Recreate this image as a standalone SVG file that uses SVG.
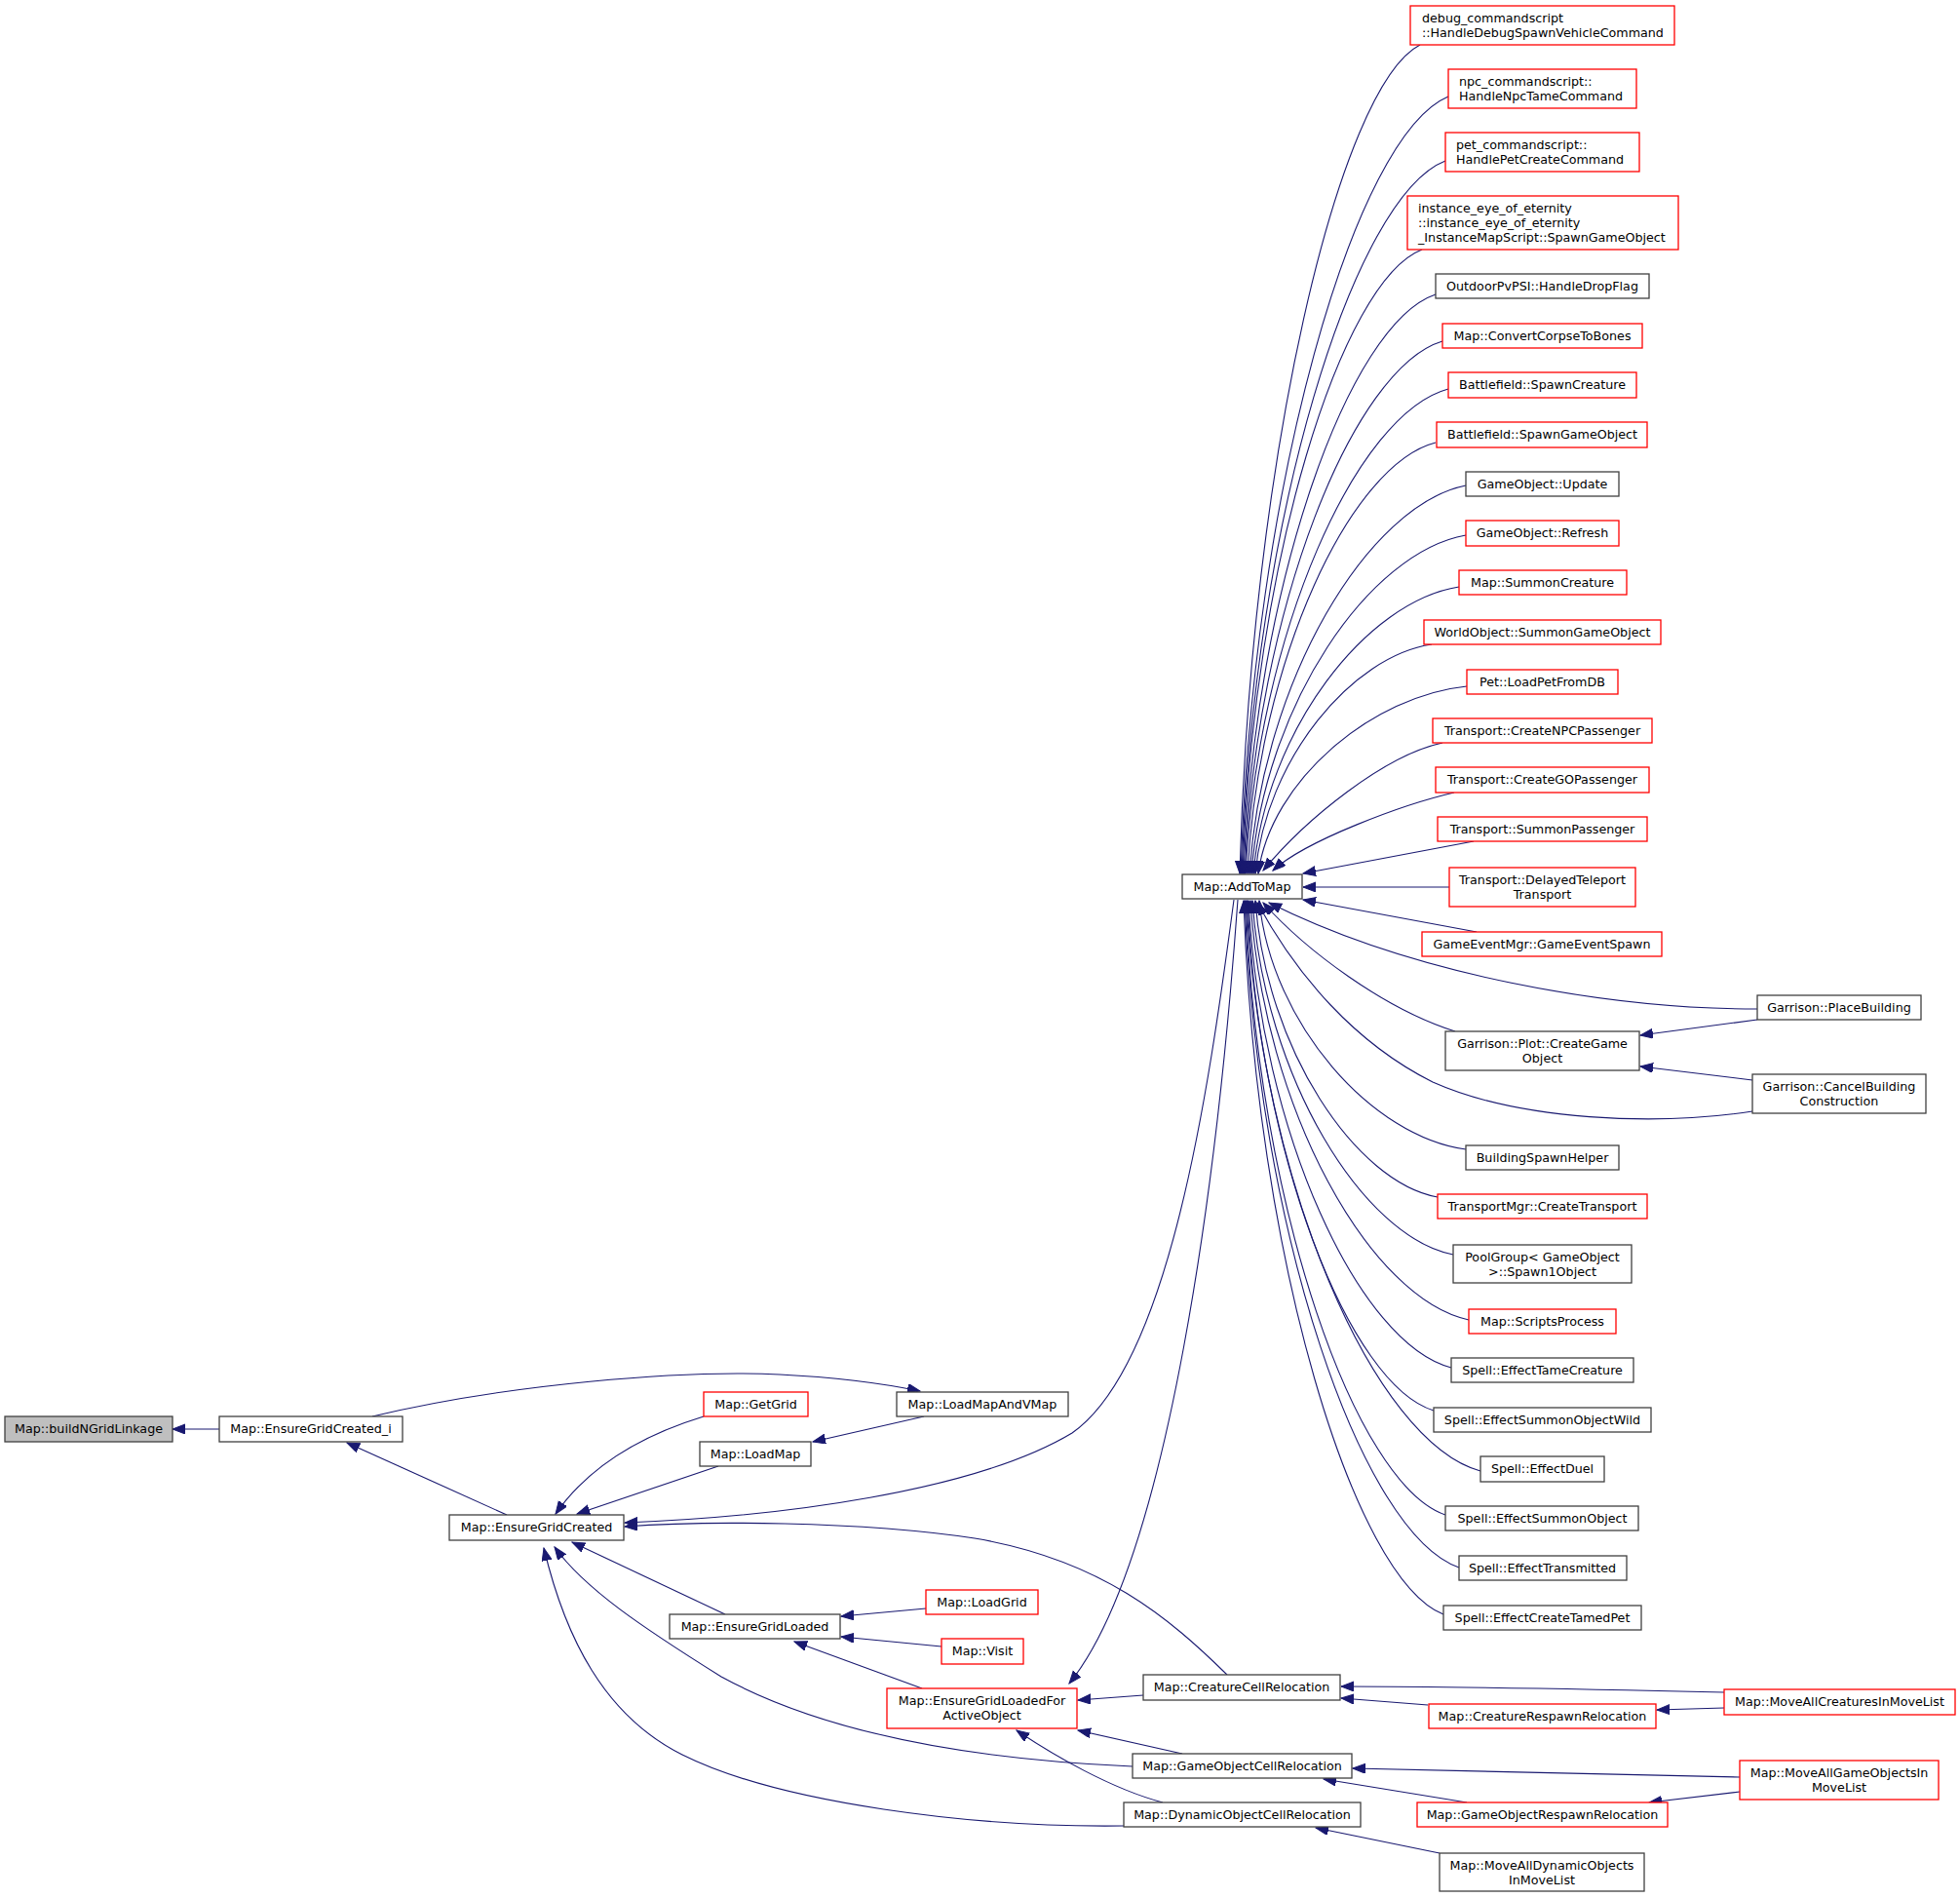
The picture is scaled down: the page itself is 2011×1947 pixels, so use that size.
<svg xmlns="http://www.w3.org/2000/svg" width="2011" height="1947" viewBox="0 0 2011 1947">
<style>
.node rect{fill:#ffffff;stroke:#404040;stroke-width:1.3}
.node.red rect{stroke:#ff0000}
.node.root rect{fill:#bfbfbf}
.node text{font-family:"DejaVu Sans",sans-serif;font-size:12.7px;fill:#000000;text-anchor:middle}
.node text.l{text-anchor:start}
.edges path{fill:none;stroke:#191970;stroke-width:1.1;marker-end:url(#arr)}
</style>
<defs>
<marker id="arr" markerUnits="userSpaceOnUse" markerWidth="14" markerHeight="11" refX="13" refY="5" orient="auto">
<path d="M0,0 L13,5 L0,10 Z" fill="#191970" stroke="#191970" stroke-width="1"/>
</marker>
</defs>
<rect x="0" y="0" width="2011" height="1947" fill="#ffffff"/>
<g id="edges" class="edges">
<path d="M225,1466 L177,1466"/>
<path d="M520,1554 L356,1480"/>
<path d="M382,1453 C520,1420 700,1405 800,1410 C860,1413 910,1420 944,1427"/>
<path d="M948,1453 L834,1479"/>
<path d="M722,1453 C650,1475 600,1510 570,1553"/>
<path d="M737,1504 L592,1553"/>
<path d="M1266,923 C1240,1120 1200,1400 1100,1470 C1000,1530 800,1556 641,1562"/>
<path d="M744,1656 L587,1582"/>
<path d="M1259,1718 C1200,1660 1130,1600 1000,1578 C880,1560 720,1560 641,1566"/>
<path d="M1162,1812 C1000,1805 850,1780 740,1720 C660,1670 600,1630 569,1587"/>
<path d="M1153,1873 C1000,1875 800,1850 700,1800 C620,1760 580,1680 558,1588"/>
<path d="M950,1650 L863,1658"/>
<path d="M966,1689 L863,1679"/>
<path d="M946,1732 L815,1684"/>
<path d="M1270,923 C1250,1200 1200,1600 1097,1727"/>
<path d="M1173,1739 L1106,1744"/>
<path d="M1213,1799 L1106,1775"/>
<path d="M1193,1849 C1140,1835 1080,1800 1043,1775"/>
<path d="M1769,1736 C1600,1732 1450,1730 1376,1730"/>
<path d="M1465,1749 L1376,1742"/>
<path d="M1769,1752 L1700,1754"/>
<path d="M1785,1823 L1388,1814"/>
<path d="M1505,1849 L1358,1825"/>
<path d="M1785,1838 L1692,1849"/>
<path d="M1477,1901 L1350,1875"/>
<path d="M1457,46 C1373.8,88.5 1283.1,471 1272,896"/>
<path d="M1486,99 C1390.2,138.9 1285.8,497.5 1273,896"/>
<path d="M1483,165 C1389,201.6 1286.5,530.5 1274,896"/>
<path d="M1459,256 C1376.2,288 1286,576 1275,896"/>
<path d="M1473,302 C1384.4,331.7 1287.8,599 1276,896"/>
<path d="M1480,350 C1388.7,377.3 1289.2,623 1277,896"/>
<path d="M1486,399 C1392.4,423.9 1290.5,647.5 1278,896"/>
<path d="M1473,454 C1386.2,476.1 1291.6,675 1280,896"/>
<path d="M1504,498 C1404.1,517.9 1295.3,697 1282,896"/>
<path d="M1504,549 C1405,566.4 1297.2,722.5 1284,896"/>
<path d="M1497,602 C1402,616.7 1298.7,749 1286,896"/>
<path d="M1469,661 C1387.6,672.8 1298.9,778.5 1288,896"/>
<path d="M1505,704 C1408.7,713.6 1303.8,800 1291,896"/>
<path d="M1480,762 C1420,775 1340,840 1296,893"/>
<path d="M1492,813 C1440,825 1340,862 1306,893"/>
<path d="M1512,863 L1337,896"/>
<path d="M1487,910 L1337,910"/>
<path d="M1515,956 L1337,923"/>
<path d="M1803,1035 C1650,1035 1450,1000 1302,926"/>
<path d="M1493,1058 C1420,1035 1340,975 1296,926"/>
<path d="M1803,1046 L1683,1062"/>
<path d="M1798,1108 L1683,1094"/>
<path d="M1798,1140 C1700,1155 1560,1150 1470,1110 C1390,1070 1330,1000 1290,926"/>
<path d="M1504,1179 C1408.6,1166.3 1304.7,1051.5 1292,924"/>
<path d="M1475,1228 C1390.9,1212.8 1299.2,1076 1288,924"/>
<path d="M1491,1287 C1398.3,1268.9 1297.4,1105.5 1285,924"/>
<path d="M1507,1354 C1406.2,1332.5 1296.4,1139 1283,924"/>
<path d="M1489,1403 C1395.4,1379 1293.5,1163.5 1281,924"/>
<path d="M1471,1447 C1385,1420.9 1291.5,1185.5 1280,924"/>
<path d="M1519,1509 C1411,1479.8 1293.4,1216.5 1279,924"/>
<path d="M1483,1554 C1390.8,1522.5 1290.3,1239 1278,924"/>
<path d="M1497,1608 C1398,1573.8 1290.2,1266 1277,924"/>
<path d="M1481,1656 C1388.8,1619.4 1288.3,1290 1276,924"/>
</g>
<g id="n1" class="node root"><rect x="5" y="1453" width="172" height="26"/><text x="91" y="1470">Map::buildNGridLinkage</text></g>
<g id="n2" class="node"><rect x="225" y="1453" width="188" height="26"/><text x="319" y="1470">Map::EnsureGridCreated_i</text></g>
<g id="n3" class="node"><rect x="461" y="1554" width="179" height="26"/><text x="550.5" y="1571">Map::EnsureGridCreated</text></g>
<g id="n4" class="node"><rect x="920" y="1428" width="176" height="25"/><text x="1008" y="1445">Map::LoadMapAndVMap</text></g>
<g id="n5" class="node red"><rect x="722" y="1428" width="107" height="25"/><text x="775.5" y="1445">Map::GetGrid</text></g>
<g id="n6" class="node"><rect x="718" y="1479" width="114" height="25"/><text x="775" y="1496">Map::LoadMap</text></g>
<g id="n7" class="node"><rect x="687" y="1656" width="175" height="25"/><text x="774.5" y="1673">Map::EnsureGridLoaded</text></g>
<g id="n8" class="node red"><rect x="950" y="1631" width="115" height="25"/><text x="1007.5" y="1648">Map::LoadGrid</text></g>
<g id="n9" class="node red"><rect x="966" y="1681" width="84" height="26"/><text x="1008" y="1698">Map::Visit</text></g>
<g id="n10" class="node red"><rect x="910" y="1732" width="195" height="41"/><text x="1007.5" y="1748.5">Map::EnsureGridLoadedFor</text><text x="1007.5" y="1763.5">ActiveObject</text></g>
<g id="n11" class="node"><rect x="1173" y="1718" width="202" height="26"/><text x="1274" y="1735">Map::CreatureCellRelocation</text></g>
<g id="n12" class="node"><rect x="1162" y="1799" width="225" height="25"/><text x="1274.5" y="1816">Map::GameObjectCellRelocation</text></g>
<g id="n13" class="node"><rect x="1153" y="1849" width="243" height="25"/><text x="1274.5" y="1866">Map::DynamicObjectCellRelocation</text></g>
<g id="n14" class="node red"><rect x="1466" y="1748" width="233" height="25"/><text x="1582.5" y="1765">Map::CreatureRespawnRelocation</text></g>
<g id="n15" class="node red"><rect x="1454" y="1849" width="257" height="25"/><text x="1582.5" y="1866">Map::GameObjectRespawnRelocation</text></g>
<g id="n16" class="node red"><rect x="1769" y="1733" width="237" height="26"/><text x="1887.5" y="1750">Map::MoveAllCreaturesInMoveList</text></g>
<g id="n17" class="node red"><rect x="1785" y="1806" width="204" height="40"/><text x="1887" y="1822.5">Map::MoveAllGameObjectsIn</text><text x="1887" y="1837.5">MoveList</text></g>
<g id="n18" class="node"><rect x="1477" y="1901" width="210" height="39"/><text x="1582" y="1917.5">Map::MoveAllDynamicObjects</text><text x="1582" y="1932.5">InMoveList</text></g>
<g id="n19" class="node"><rect x="1213" y="897" width="123" height="25"/><text x="1274.5" y="914">Map::AddToMap</text></g>
<g id="n20" class="node red"><rect x="1447" y="6" width="271" height="40"/><text class="l" x="1459" y="22.5">debug_commandscript</text><text class="l" x="1459" y="37.5">::HandleDebugSpawnVehicleCommand</text></g>
<g id="n21" class="node red"><rect x="1486" y="71" width="193" height="40"/><text class="l" x="1497" y="87.5">npc_commandscript::</text><text class="l" x="1497" y="102.5">HandleNpcTameCommand</text></g>
<g id="n22" class="node red"><rect x="1483" y="136" width="199" height="40"/><text class="l" x="1494" y="152.5">pet_commandscript::</text><text class="l" x="1494" y="167.5">HandlePetCreateCommand</text></g>
<g id="n23" class="node red"><rect x="1444" y="201" width="278" height="55"/><text class="l" x="1455" y="218">instance_eye_of_eternity</text><text class="l" x="1455" y="233">::instance_eye_of_eternity</text><text class="l" x="1455" y="248">_InstanceMapScript::SpawnGameObject</text></g>
<g id="n24" class="node"><rect x="1473" y="281" width="219" height="25"/><text x="1582.5" y="298">OutdoorPvPSI::HandleDropFlag</text></g>
<g id="n25" class="node red"><rect x="1480" y="332" width="205" height="25"/><text x="1582.5" y="349">Map::ConvertCorpseToBones</text></g>
<g id="n26" class="node red"><rect x="1486" y="382" width="193" height="26"/><text x="1582.5" y="399">Battlefield::SpawnCreature</text></g>
<g id="n27" class="node red"><rect x="1474" y="433" width="216" height="26"/><text x="1582.5" y="450">Battlefield::SpawnGameObject</text></g>
<g id="n28" class="node"><rect x="1504" y="484" width="157" height="25"/><text x="1582.5" y="501">GameObject::Update</text></g>
<g id="n29" class="node red"><rect x="1504" y="534" width="157" height="26"/><text x="1582.5" y="551">GameObject::Refresh</text></g>
<g id="n30" class="node red"><rect x="1497" y="585" width="172" height="25"/><text x="1582.5" y="602">Map::SummonCreature</text></g>
<g id="n31" class="node red"><rect x="1461" y="636" width="243" height="25"/><text x="1582.5" y="653">WorldObject::SummonGameObject</text></g>
<g id="n32" class="node red"><rect x="1505" y="687" width="155" height="25"/><text x="1582.5" y="704">Pet::LoadPetFromDB</text></g>
<g id="n33" class="node red"><rect x="1470" y="737" width="225" height="25"/><text x="1582.5" y="754">Transport::CreateNPCPassenger</text></g>
<g id="n34" class="node red"><rect x="1473" y="787" width="219" height="26"/><text x="1582.5" y="804">Transport::CreateGOPassenger</text></g>
<g id="n35" class="node red"><rect x="1475" y="838" width="215" height="25"/><text x="1582.5" y="855">Transport::SummonPassenger</text></g>
<g id="n36" class="node red"><rect x="1487" y="890" width="191" height="40"/><text x="1582.5" y="906.5">Transport::DelayedTeleport</text><text x="1582.5" y="921.5">Transport</text></g>
<g id="n37" class="node red"><rect x="1459" y="956" width="246" height="25"/><text x="1582" y="973">GameEventMgr::GameEventSpawn</text></g>
<g id="n38" class="node"><rect x="1803" y="1021" width="168" height="25"/><text x="1887" y="1038">Garrison::PlaceBuilding</text></g>
<g id="n39" class="node"><rect x="1483" y="1058" width="199" height="40"/><text x="1582.5" y="1074.5">Garrison::Plot::CreateGame</text><text x="1582.5" y="1089.5">Object</text></g>
<g id="n40" class="node"><rect x="1798" y="1102" width="178" height="40"/><text x="1887" y="1118.5">Garrison::CancelBuilding</text><text x="1887" y="1133.5">Construction</text></g>
<g id="n41" class="node"><rect x="1504" y="1175" width="157" height="25"/><text x="1582.5" y="1192">BuildingSpawnHelper</text></g>
<g id="n42" class="node red"><rect x="1475" y="1225" width="215" height="25"/><text x="1582.5" y="1242">TransportMgr::CreateTransport</text></g>
<g id="n43" class="node"><rect x="1491" y="1277" width="183" height="39"/><text x="1582.5" y="1293.5">PoolGroup&lt; GameObject</text><text x="1582.5" y="1308.5">&gt;::Spawn1Object</text></g>
<g id="n44" class="node red"><rect x="1507" y="1343" width="151" height="25"/><text x="1582.5" y="1360">Map::ScriptsProcess</text></g>
<g id="n45" class="node"><rect x="1489" y="1393" width="187" height="25"/><text x="1582.5" y="1410">Spell::EffectTameCreature</text></g>
<g id="n46" class="node"><rect x="1471" y="1444" width="223" height="25"/><text x="1582.5" y="1461">Spell::EffectSummonObjectWild</text></g>
<g id="n47" class="node"><rect x="1519" y="1494" width="127" height="26"/><text x="1582.5" y="1511">Spell::EffectDuel</text></g>
<g id="n48" class="node"><rect x="1483" y="1545" width="198" height="25"/><text x="1582.5" y="1562">Spell::EffectSummonObject</text></g>
<g id="n49" class="node"><rect x="1497" y="1596" width="172" height="25"/><text x="1582.5" y="1613">Spell::EffectTransmitted</text></g>
<g id="n50" class="node"><rect x="1481" y="1647" width="203" height="25"/><text x="1582.5" y="1664">Spell::EffectCreateTamedPet</text></g>
</svg>
